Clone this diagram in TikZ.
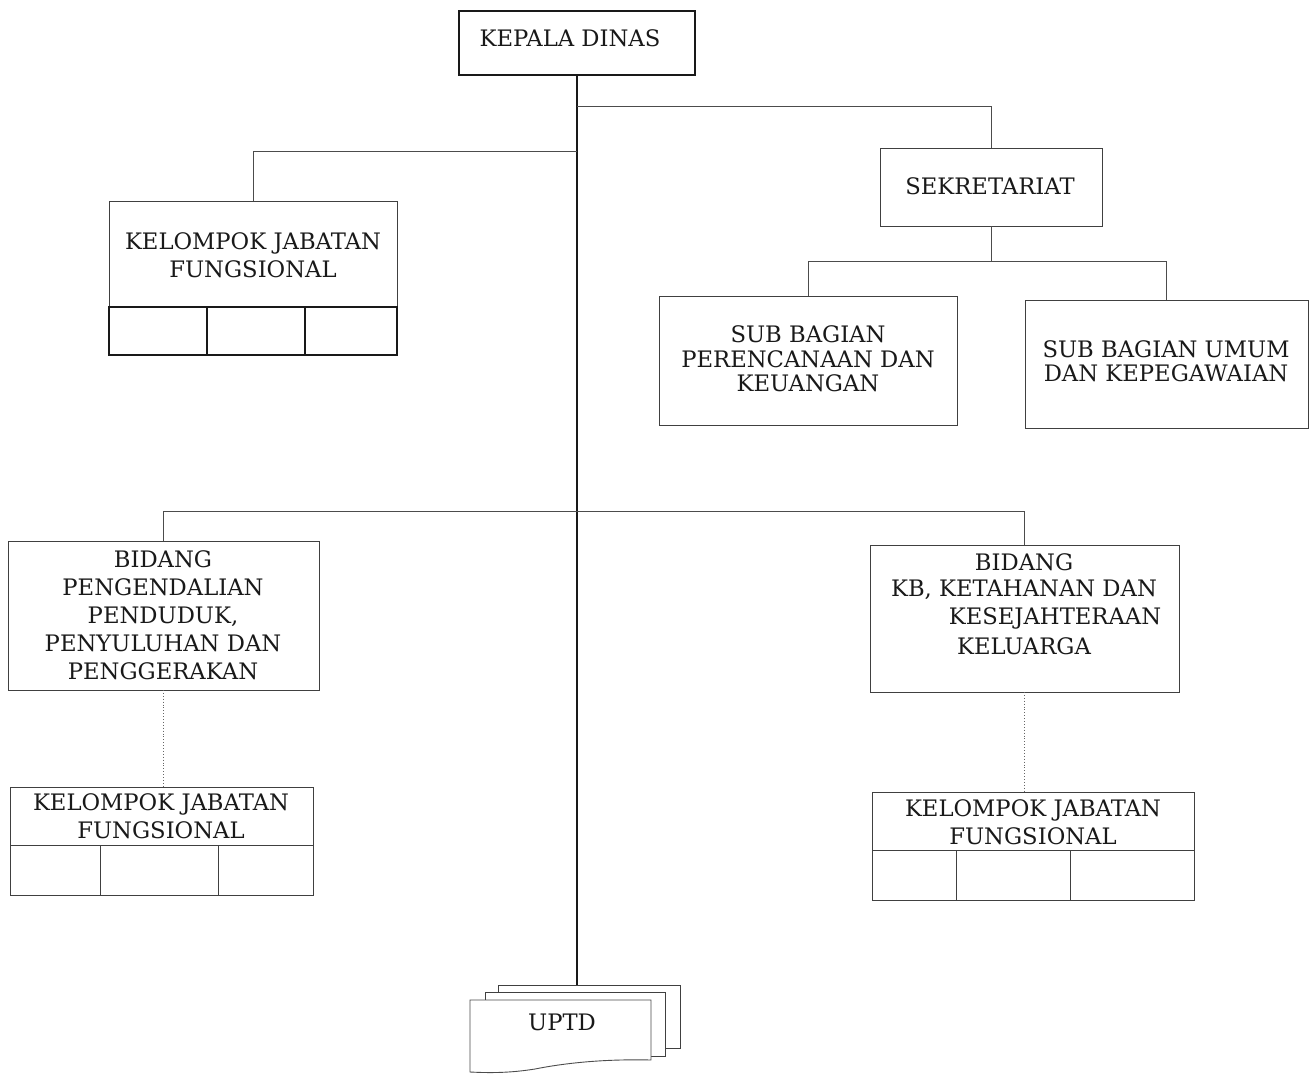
\documentclass[tikz,border=0pt]{standalone}
\usepackage{fontspec}
\setmainfont{DejaVu Serif}
\begin{document}
\begin{tikzpicture}[x=1pt,y=-1pt,
  every node/.style={inner sep=0pt,outer sep=0pt},
  thinbox/.style={draw=black!75,line width=0.9pt,rectangle},
  thickbox/.style={draw=black!90,line width=2pt,rectangle},
  lbl/.style={font=\fontsize{22.7}{28}\selectfont,align=center,text=black!90},
  lbls/.style={font=\fontsize{22.7}{24.5}\selectfont,align=center,text=black!90},
  thinln/.style={draw=black!70,line width=0.9pt},
  mainln/.style={draw=black!90,line width=2.2pt},
  dotln/.style={draw=black!60,line width=0.9pt,dotted}]
\useasboundingbox (0,0) rectangle (1311,1076);
\fill[white] (0,0) rectangle (1311,1076);

% KEPALA DINAS
\node[thickbox,minimum width=236pt,minimum height=64pt] (kd) at (577,43) {};
\node[lbl] (kdt) at (570,38) {KEPALA DINAS};

% SEKRETARIAT
\node[thinbox,minimum width=222pt,minimum height=78pt] (sek) at (991,187) {};
\node[lbl] (sekt) at (990,186) {SEKRETARIAT};

% Sub bagian
\node[thinbox,minimum width=298pt,minimum height=129pt] (sub1) at (808,360.5) {};
\node[lbls] (sub1t) at (808,359) {SUB BAGIAN\\PERENCANAAN DAN\\KEUANGAN};
\node[thinbox,minimum width=283pt,minimum height=128pt] (sub2) at (1166.5,364) {};
\node[lbls] (sub2t) at (1166,361) {SUB BAGIAN UMUM\\DAN KEPEGAWAIAN};

% KJF top
\node[thinbox,minimum width=288pt,minimum height=106pt] (kjf1) at (253,254) {};
\node[lbl] (kjf1t) at (253,255) {KELOMPOK JABATAN\\FUNGSIONAL};
\node[thickbox,minimum width=98pt,minimum height=48pt] (kjf1a) at (158,331) {};
\node[thickbox,minimum width=98pt,minimum height=48pt] (kjf1b) at (256,331) {};
\node[thickbox,minimum width=92pt,minimum height=48pt] (kjf1c) at (351,331) {};

% Bidang left
\node[thinbox,minimum width=311pt,minimum height=149pt] (bid1) at (163.5,615.5) {};
\node[lbl] (bid1t) at (163,615) {BIDANG\\PENGENDALIAN\\PENDUDUK,\\PENYULUHAN DAN\\PENGGERAKAN};

% Bidang right
\node[thinbox,minimum width=309pt,minimum height=147pt] (bid2) at (1024.5,618.5) {};
\node[lbl] (bid2a) at (1024,562) {BIDANG};
\node[lbl] (bid2b) at (1024,590) {KB, KETAHANAN DAN};
\node[lbl] (bid2c) at (1055,618) {KESEJAHTERAAN};
\node[lbl] (bid2d) at (1024,646) {KELUARGA};

% KJF left bottom
\node[thinbox,minimum width=303pt,minimum height=58pt] (kjf2) at (161.5,816) {};
\node[lbl] (kjf2t) at (161,816) {KELOMPOK JABATAN\\FUNGSIONAL};
\node[thinbox,minimum width=90pt,minimum height=50pt] (kjf2a) at (55,870) {};
\node[thinbox,minimum width=118pt,minimum height=50pt] (kjf2b) at (159,870) {};
\node[thinbox,minimum width=95pt,minimum height=50pt] (kjf2c) at (265.5,870) {};

% KJF right bottom
\node[thinbox,minimum width=322pt,minimum height=58pt] (kjf3) at (1033,821) {};
\node[lbl] (kjf3t) at (1033,822) {KELOMPOK JABATAN\\FUNGSIONAL};
\node[thinbox,minimum width=84pt,minimum height=50pt] (kjf3a) at (914,875) {};
\node[thinbox,minimum width=114pt,minimum height=50pt] (kjf3b) at (1013,875) {};
\node[thinbox,minimum width=124pt,minimum height=50pt] (kjf3c) at (1132,875) {};

% UPTD stacked documents
\node[thinbox,fill=white,minimum width=182pt,minimum height=63pt] (uptd3) at (589,1016.5) {};
\node[thinbox,fill=white,minimum width=180pt,minimum height=64pt] (uptd2) at (575,1024) {};
\coordinate (u1) at (470,1000);
\coordinate (u2) at (651,1000);
\coordinate (u3) at (651,1060);
\coordinate (u4) at (470,1072);
\draw[thinln,fill=white] (u1) -- (u2) -- (u3)
  .. controls (610,1059) and (570,1062) .. (535,1069)
  .. controls (510,1073) and (490,1073) .. (u4) -- cycle;
\node[lbl] (uptdt) at (562,1022) {UPTD};

% connectors
\coordinate (j1) at (577,106);
\coordinate (j2) at (577,151);
\coordinate (j3) at (577,511);
\coordinate (s1) at (991,261);
\draw[mainln] (kd.south) -- (kd.south |- uptd3.north);
\draw[thinln] (j1) -| (sek.north);
\draw[thinln] (j2) -| (kjf1.north);
\draw[thinln] (sek.south) -- (s1);
\draw[thinln] (sub1.north) -- (sub1.north |- s1) -- (sub2.north |- s1) -- (sub2.north);
\draw[thinln] (bid1.north) -- (bid1.north |- j3) -- (bid2.north |- j3) -- (bid2.north);
\draw[dotln] (bid1.south) -- (bid1.south |- kjf2.north);
\draw[dotln] (bid2.south) -- (bid2.south |- kjf3.north);
\end{tikzpicture}
\end{document}
